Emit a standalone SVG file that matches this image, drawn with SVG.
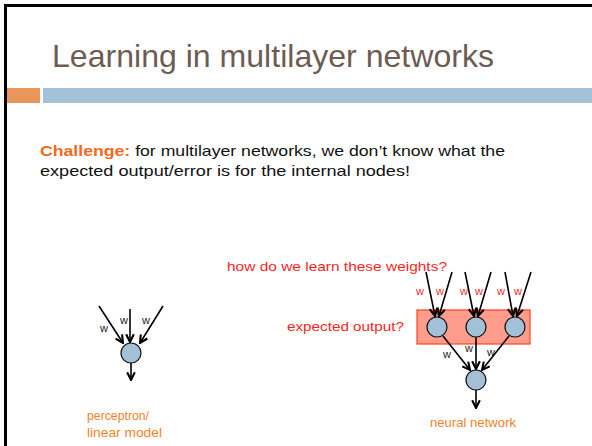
<svg xmlns="http://www.w3.org/2000/svg" width="592" height="446" viewBox="0 0 592 446">
  <style>
    .title { font-family: "Liberation Sans", Arial, sans-serif; font-size: 32px; fill: #6e5c54; }
    .body { font-family: "Liberation Sans", Arial, sans-serif; font-size: 15px; fill: #111; }
    .hl { font-weight: bold; fill: #f26a1c; }
    .red { font-family: "Liberation Sans", Arial, sans-serif; font-size: 13px; fill: #ff1f1f; }
    .cap { font-family: "Liberation Sans", Arial, sans-serif; font-size: 13px; fill: #f5822a; }
    .w { font-family: "Liberation Sans", Arial, sans-serif; font-size: 11px; fill: #222; }
    .wr { font-family: "Liberation Sans", Arial, sans-serif; font-size: 11px; fill: #ff1f1f; }
    .node { fill: #a3c0d9; stroke: #111; stroke-width: 1.2; }
    .edge { stroke: #000; stroke-width: 1.6; fill: none; marker-end: url(#arr); }
  </style>
  <defs>
    <marker id="arr" viewBox="0 0 10 10" refX="9" refY="5" markerWidth="6" markerHeight="6" orient="auto" markerUnits="strokeWidth">
      <path d="M1,1 L9,5 L1,9" fill="none" stroke="#000" stroke-width="2.2"/>
    </marker>
  </defs>

  <rect x="0" y="0" width="592" height="446" fill="#fff"/>
  <!-- slide frame -->
  <rect x="5.5" y="5.5" width="600" height="460" fill="none" stroke="#000" stroke-width="3"/>

  <!-- title and accent bars -->
  <text class="title" x="52" y="67" textLength="442" lengthAdjust="spacingAndGlyphs">Learning in multilayer networks</text>
  <rect x="7" y="88" width="33" height="15" fill="#e8965a"/>
  <rect x="43" y="88" width="549" height="15" fill="#a4c1da"/>

  <!-- body text -->
  <text class="body" x="40" y="156" textLength="465" lengthAdjust="spacingAndGlyphs"><tspan class="hl">Challenge:</tspan> for multilayer networks, we don’t know what the</text>
  <text class="body" x="40" y="176" textLength="370" lengthAdjust="spacingAndGlyphs">expected output/error is for the internal nodes!</text>

  <!-- perceptron -->
  <g id="perceptron">
    <circle class="node" cx="131" cy="353" r="10"/>
    <text class="w" x="100" y="332">w</text>
    <text class="w" x="120" y="324">w</text>
    <text class="w" x="142" y="324">w</text>
    <text class="cap" x="87" y="420" textLength="62" lengthAdjust="spacingAndGlyphs">perceptron/</text>
    <text class="cap" x="87" y="437" textLength="75" lengthAdjust="spacingAndGlyphs">linear model</text>
  </g>

  <!-- neural network -->
  <g id="hidden-layer">
    <rect x="417" y="310" width="113" height="34" fill="#ff9c8c" stroke="#ff4422" stroke-width="1.2"/>
    <circle class="node" cx="437" cy="327" r="10"/>
    <circle class="node" cx="476" cy="327" r="10"/>
    <circle class="node" cx="515" cy="327" r="10"/>
  </g>
  <g id="output-node">
    <circle class="node" cx="476" cy="380" r="10"/>
  </g>
  <g id="labels">
    <text class="red" x="227" y="271" textLength="220" lengthAdjust="spacingAndGlyphs">how do we learn these weights?</text>
    <text class="red" x="287" y="331" textLength="117" lengthAdjust="spacingAndGlyphs">expected output?</text>
    <text class="wr" x="416" y="295">w</text>
    <text class="wr" x="436" y="295">w</text>
    <text class="wr" x="460" y="295">w</text>
    <text class="wr" x="475" y="295">w</text>
    <text class="wr" x="497" y="295">w</text>
    <text class="wr" x="514" y="295">w</text>
    <text class="w" x="443" y="358">w</text>
    <text class="w" x="465" y="352">w</text>
    <text class="w" x="487" y="356">w</text>
    <text class="cap" x="430" y="427" textLength="86" lengthAdjust="spacingAndGlyphs">neural network</text>
  </g>

  <!-- connectors -->
  <g id="connectors">
    <line class="edge" x1="99" y1="306" x2="123" y2="343"/>
    <line class="edge" x1="130" y1="309" x2="130" y2="342"/>
    <line class="edge" x1="163" y1="306" x2="140" y2="343"/>
    <line class="edge" x1="131" y1="363" x2="131" y2="380"/>

    <line class="edge" x1="426" y1="272" x2="435" y2="316"/>
    <line class="edge" x1="452" y1="272" x2="439" y2="316"/>
    <line class="edge" x1="465" y1="272" x2="474" y2="316"/>
    <line class="edge" x1="491" y1="272" x2="478" y2="316"/>
    <line class="edge" x1="505" y1="272" x2="513" y2="316"/>
    <line class="edge" x1="531" y1="272" x2="517" y2="316"/>

    <line class="edge" x1="443" y1="336" x2="470" y2="370"/>
    <line class="edge" x1="476" y1="337" x2="476" y2="369"/>
    <line class="edge" x1="509" y1="336" x2="482" y2="370"/>
    <line class="edge" x1="476" y1="390" x2="476" y2="408"/>
  </g>
</svg>
